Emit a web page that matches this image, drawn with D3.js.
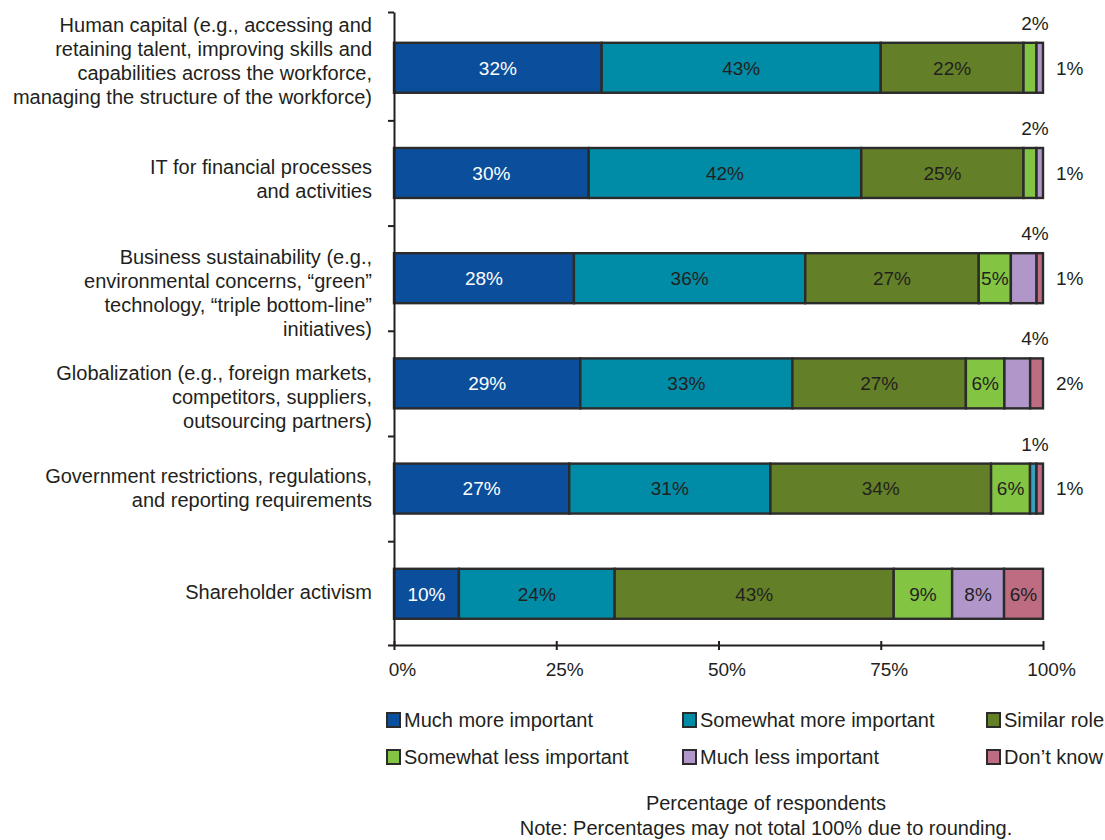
<!DOCTYPE html>
<html>
<head>
<meta charset="utf-8">
<script src="https://cdn.jsdelivr.net/npm/d3@7/dist/d3.min.js"></script>
<style>
  html, body { margin: 0; padding: 0; background: #fff; }
  svg { display: block; font-family: "Liberation Sans", Arial, sans-serif; }
</style>
</head>
<body>
<svg id="chart" width="1105" height="840"></svg>
<script>
// Survey categories (one bar each), label lines split with "\n"
const categories = [
  "Human capital (e.g., accessing and\nretaining talent, improving skills and\ncapabilities across the workforce,\nmanaging the structure of the workforce)",
  "IT for financial processes\nand activities",
  "Business sustainability (e.g.,\nenvironmental concerns, \u201cgreen\u201d\ntechnology, \u201ctriple bottom-line\u201d\ninitiatives)",
  "Globalization (e.g., foreign markets,\ncompetitors, suppliers,\noutsourcing partners)",
  "Government restrictions, regulations,\nand reporting requirements",
  "Shareholder activism"
];

const seriesNames = [
  "Much more important",
  "Somewhat more important",
  "Similar role",
  "Somewhat less important",
  "Much less important",
  "Don\u2019t know"
];

// Percentage of respondents per answer, in category order
const muchMore      = [32, 30, 28, 29, 27, 10];
const somewhatMore  = [43, 42, 36, 33, 31, 24];
const similarRole   = [22, 25, 27, 27, 34, 43];
const somewhatLess  = [2, 2, 5, 6, 6, 9];
const muchLess      = [1, 1, 4, 4, 1, 8];
const dontKnow      = [0, 0, 1, 2, 1, 6];

const xTicks = [0, 0.25, 0.5, 0.75, 1];

const seriesColors = ["#0b4f9c", "#008ba6", "#637f27", "#83c443", "#b197c9", "#bd6c82"];

const seriesValues = [muchMore, somewhatMore, similarRole, somewhatLess, muchLess, dontKnow];
const rows = categories.map((c, i) => {
  const r = { category: c };
  seriesNames.forEach((s, j) => { r[s] = seriesValues[j][i]; });
  return r;
});

const svg = d3.select("#chart");
const ink = "#231f20";

const margin = { left: 394, right: 62, top: 12, bottom: 195 };
const W = 1105, H = 840;
const plotTop = margin.top, plotBottom = H - margin.bottom;

const x = d3.scaleLinear().domain([0, 1]).range([margin.left, W - margin.right]);
const y = d3.scaleBand().domain(categories).range([plotTop, plotBottom])
  .paddingInner(0.525).paddingOuter(0.271).align(0.54);

// Each row shows shares of its own total (rounded figures may not add to 100)
const stacked = d3.stack().keys(seriesNames).offset(d3.stackOffsetExpand)(rows);

const color = d3.scaleOrdinal().domain(seriesNames).range(seriesColors);

// Bars
const layer = svg.append("g").selectAll("g").data(stacked).join("g")
  .attr("fill", d => color(d.key));

layer.selectAll("rect").data(d => d.map(p => Object.assign(p, { key: d.key })))
  .join("rect")
  .attr("x", d => x(d[0]))
  .attr("y", d => y(d.data.category))
  .attr("width", d => Math.max(0, x(d[1]) - x(d[0])))
  .attr("height", y.bandwidth())
  .attr("fill", d => (d.data.category === categories[4] && d.key === seriesNames[4]) ? "#3b9dc0" : null)
  .attr("stroke", d => d.data[d.key] > 0 ? "#2b2b2b" : "none")
  .attr("stroke-width", 2.4);

// Value labels: inside wide segments, above or right of narrow ones
const labels = svg.append("g").attr("font-size", 19);
rows.forEach((row, i) => {
  const segs = stacked.map(s => ({ key: s.key, v: row[s.key], x0: x(s[i][0]), x1: x(s[i][1]) }))
    .filter(s => s.v > 0);
  const yc = y(row.category) + y.bandwidth() / 2;
  segs.forEach((s, j) => {
    const cx = (s.x0 + s.x1) / 2;
    if (s.v >= 5) {
      labels.append("text")
        .attr("x", cx).attr("y", yc).attr("dy", "0.36em")
        .attr("text-anchor", "middle")
        .attr("fill", s.key === seriesNames[0] ? "#ffffff" : ink)
        .text(s.v + "%");
    } else if (j === segs.length - 1) {
      labels.append("text")
        .attr("x", x(1) + 13).attr("y", yc).attr("dy", "0.36em")
        .attr("fill", ink)
        .text(s.v + "%");
    } else {
      labels.append("text")
        .attr("x", Math.max(cx, x(1) - 8)).attr("y", y(row.category) - 13)
        .attr("text-anchor", "middle")
        .attr("fill", ink)
        .text(s.v + "%");
    }
  });
});

// Y axis: line with ticks midway between neighbouring bars
const edges = [plotTop];
categories.slice(1).forEach((c, i) => {
  edges.push((y(categories[i]) + y.bandwidth() + y(c)) / 2);
});
edges.push(plotBottom);
const yIdentity = d3.scaleLinear().domain([plotTop, plotBottom]).range([plotTop, plotBottom]);
const yAxis = svg.append("g")
  .attr("transform", `translate(${margin.left},0)`)
  .call(d3.axisLeft(yIdentity).tickValues(edges).tickFormat("").tickSize(6).tickSizeOuter(0));
yAxis.select(".domain").attr("stroke", ink).attr("stroke-width", 2);
yAxis.selectAll(".tick line").attr("stroke", ink).attr("stroke-width", 2);

// Category labels (small vertical nudges keep long wrapped labels balanced)
const labelNudge = [-7, 6, 15, 13, -1, -2];
const catG = svg.append("g").attr("font-size", 20).attr("fill", ink).attr("text-anchor", "end");
categories.forEach((c, i) => {
  const lines = c.split("\n");
  const lh = 24;
  const yc = y(c) + y.bandwidth() / 2 + labelNudge[i];
  const t = catG.append("text").attr("x", 372).attr("y", yc - (lines.length - 1) * lh / 2);
  lines.forEach((ln, k) => {
    t.append("tspan").attr("x", 372).attr("dy", k === 0 ? "0.36em" : lh).text(ln);
  });
});

// X axis
const xAxis = svg.append("g")
  .attr("transform", `translate(0,${plotBottom})`)
  .call(d3.axisBottom(x).tickValues(xTicks).tickFormat(d3.format(".0%")).tickSize(5).tickSizeOuter(0).tickPadding(13));
xAxis.select(".domain").attr("stroke", ink).attr("stroke-width", 2);
xAxis.selectAll(".tick line").attr("stroke", ink).attr("stroke-width", 2).attr("y1", -4);
xAxis.selectAll(".tick text").attr("font-size", 19).attr("fill", ink).attr("font-family", null).attr("dx", 8);

// Legend
const legend = svg.append("g").attr("font-size", 20).attr("fill", ink);
const legendCols = [386, 682, 986];
const legendRows = [720, 757];
seriesNames.forEach((s, i) => {
  const g = legend.append("g")
    .attr("transform", `translate(${legendCols[i % 3]},${legendRows[Math.floor(i / 3)]})`);
  g.append("rect").attr("x", 1).attr("y", -7).attr("width", 13).attr("height", 14)
    .attr("fill", color(s)).attr("stroke", "#2b2b2b").attr("stroke-width", 2);
  g.append("text").attr("x", 18).attr("dy", "0.36em").text(s);
});

// Axis title and note
svg.append("text").attr("x", 766).attr("y", 803).attr("dy", "0.36em")
  .attr("text-anchor", "middle").attr("font-size", 20).attr("fill", ink)
  .text("Percentage of respondents");
svg.append("text").attr("x", 766).attr("y", 828).attr("dy", "0.36em")
  .attr("text-anchor", "middle").attr("font-size", 20).attr("fill", ink)
  .text("Note: Percentages may not total 100% due to rounding.");
</script>
</body>
</html>
